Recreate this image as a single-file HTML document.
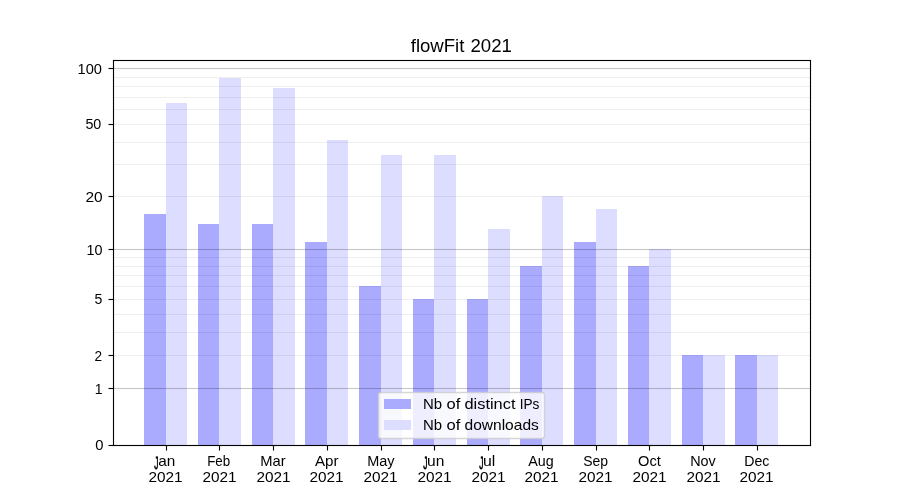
<!DOCTYPE html>
<html><head><meta charset="utf-8"><title>flowFit 2021</title>
<style>
html,body{margin:0;padding:0;background:#fff;width:900px;height:500px;overflow:hidden}
svg{display:block;will-change:transform}
text{font-family:"Liberation Sans",sans-serif;fill:#000}
</style></head><body>
<svg width="900" height="500" viewBox="0 0 900 500" shape-rendering="crispEdges">
<rect width="900" height="500" fill="#fff"/>
<rect x="144" y="214" width="22" height="231" fill="#aaaaff"/>
<rect x="166" y="103" width="21" height="342" fill="#ddddff"/>
<rect x="198" y="224" width="21" height="221" fill="#aaaaff"/>
<rect x="219" y="78" width="22" height="367" fill="#ddddff"/>
<rect x="252" y="224" width="21" height="221" fill="#aaaaff"/>
<rect x="273" y="88" width="22" height="357" fill="#ddddff"/>
<rect x="305" y="242" width="22" height="203" fill="#aaaaff"/>
<rect x="327" y="140" width="21" height="305" fill="#ddddff"/>
<rect x="359" y="286" width="22" height="159" fill="#aaaaff"/>
<rect x="381" y="155" width="21" height="290" fill="#ddddff"/>
<rect x="413" y="299" width="21" height="146" fill="#aaaaff"/>
<rect x="434" y="155" width="22" height="290" fill="#ddddff"/>
<rect x="467" y="299" width="21" height="146" fill="#aaaaff"/>
<rect x="488" y="229" width="22" height="216" fill="#ddddff"/>
<rect x="520" y="266" width="22" height="179" fill="#aaaaff"/>
<rect x="542" y="196" width="21" height="249" fill="#ddddff"/>
<rect x="574" y="242" width="22" height="203" fill="#aaaaff"/>
<rect x="596" y="209" width="21" height="236" fill="#ddddff"/>
<rect x="628" y="266" width="21" height="179" fill="#aaaaff"/>
<rect x="649" y="249" width="22" height="196" fill="#ddddff"/>
<rect x="682" y="355" width="21" height="90" fill="#aaaaff"/>
<rect x="703" y="355" width="22" height="90" fill="#ddddff"/>
<rect x="735" y="355" width="22" height="90" fill="#aaaaff"/>
<rect x="757" y="355" width="21" height="90" fill="#ddddff"/>
<rect x="113" y="355" width="698" height="1" fill="#000" fill-opacity="0.0627"/>
<rect x="113" y="332" width="698" height="1" fill="#000" fill-opacity="0.0627"/>
<rect x="113" y="314" width="698" height="1" fill="#000" fill-opacity="0.0627"/>
<rect x="113" y="299" width="698" height="1" fill="#000" fill-opacity="0.0627"/>
<rect x="113" y="286" width="698" height="1" fill="#000" fill-opacity="0.0627"/>
<rect x="113" y="275" width="698" height="1" fill="#000" fill-opacity="0.0627"/>
<rect x="113" y="266" width="698" height="1" fill="#000" fill-opacity="0.0627"/>
<rect x="113" y="257" width="698" height="1" fill="#000" fill-opacity="0.0627"/>
<rect x="113" y="196" width="698" height="1" fill="#000" fill-opacity="0.0627"/>
<rect x="113" y="164" width="698" height="1" fill="#000" fill-opacity="0.0627"/>
<rect x="113" y="142" width="698" height="1" fill="#000" fill-opacity="0.0627"/>
<rect x="113" y="124" width="698" height="1" fill="#000" fill-opacity="0.0627"/>
<rect x="113" y="109" width="698" height="1" fill="#000" fill-opacity="0.0627"/>
<rect x="113" y="97" width="698" height="1" fill="#000" fill-opacity="0.0627"/>
<rect x="113" y="86" width="698" height="1" fill="#000" fill-opacity="0.0627"/>
<rect x="113" y="77" width="698" height="1" fill="#000" fill-opacity="0.0627"/>
<rect x="113" y="388" width="698" height="1" fill="#000" fill-opacity="0.2157"/>
<rect x="113" y="387" width="698" height="1" fill="#000" fill-opacity="0.012"/>
<rect x="113" y="389" width="698" height="1" fill="#000" fill-opacity="0.012"/>
<rect x="113" y="249" width="698" height="1" fill="#000" fill-opacity="0.2157"/>
<rect x="113" y="248" width="698" height="1" fill="#000" fill-opacity="0.012"/>
<rect x="113" y="250" width="698" height="1" fill="#000" fill-opacity="0.012"/>
<rect x="113" y="68" width="698" height="1" fill="#000" fill-opacity="0.2157"/>
<rect x="113" y="67" width="698" height="1" fill="#000" fill-opacity="0.012"/>
<rect x="113" y="69" width="698" height="1" fill="#000" fill-opacity="0.012"/>
<g fill="#000">
<rect x="113" y="60" width="698" height="1"/>
<rect x="113" y="59" width="698" height="1" fill-opacity="0.0555"/>
<rect x="113" y="61" width="698" height="1" fill-opacity="0.0555"/>
<rect x="112" y="60" width="1" height="1" fill-opacity="0.0555"/>
<rect x="811" y="60" width="1" height="1" fill-opacity="0.0555"/>
<rect x="113" y="445" width="698" height="1"/>
<rect x="113" y="444" width="698" height="1" fill-opacity="0.0555"/>
<rect x="113" y="446" width="698" height="1" fill-opacity="0.0555"/>
<rect x="112" y="445" width="1" height="1" fill-opacity="0.0555"/>
<rect x="811" y="445" width="1" height="1" fill-opacity="0.0555"/>
<rect x="113" y="60" width="1" height="386"/>
<rect x="112" y="60" width="1" height="386" fill-opacity="0.0555"/>
<rect x="114" y="60" width="1" height="386" fill-opacity="0.0555"/>
<rect x="113" y="59" width="1" height="1" fill-opacity="0.0555"/>
<rect x="113" y="446" width="1" height="1" fill-opacity="0.0555"/>
<rect x="810" y="60" width="1" height="386"/>
<rect x="809" y="60" width="1" height="386" fill-opacity="0.0555"/>
<rect x="811" y="60" width="1" height="386" fill-opacity="0.0555"/>
<rect x="810" y="59" width="1" height="1" fill-opacity="0.0555"/>
<rect x="810" y="446" width="1" height="1" fill-opacity="0.0555"/>
<rect x="109" y="445" width="4" height="1"/>
<rect x="108" y="445" width="1" height="1" fill-opacity="0.5"/>
<rect x="109" y="444" width="4" height="1" fill-opacity="0.0555"/>
<rect x="108" y="444" width="1" height="1" fill-opacity="0.02775"/>
<rect x="109" y="446" width="4" height="1" fill-opacity="0.0555"/>
<rect x="108" y="446" width="1" height="1" fill-opacity="0.02775"/>
<rect x="109" y="388" width="4" height="1"/>
<rect x="108" y="388" width="1" height="1" fill-opacity="0.5"/>
<rect x="109" y="387" width="4" height="1" fill-opacity="0.0555"/>
<rect x="108" y="387" width="1" height="1" fill-opacity="0.02775"/>
<rect x="109" y="389" width="4" height="1" fill-opacity="0.0555"/>
<rect x="108" y="389" width="1" height="1" fill-opacity="0.02775"/>
<rect x="109" y="355" width="4" height="1"/>
<rect x="108" y="355" width="1" height="1" fill-opacity="0.5"/>
<rect x="109" y="354" width="4" height="1" fill-opacity="0.0555"/>
<rect x="108" y="354" width="1" height="1" fill-opacity="0.02775"/>
<rect x="109" y="356" width="4" height="1" fill-opacity="0.0555"/>
<rect x="108" y="356" width="1" height="1" fill-opacity="0.02775"/>
<rect x="109" y="299" width="4" height="1"/>
<rect x="108" y="299" width="1" height="1" fill-opacity="0.5"/>
<rect x="109" y="298" width="4" height="1" fill-opacity="0.0555"/>
<rect x="108" y="298" width="1" height="1" fill-opacity="0.02775"/>
<rect x="109" y="300" width="4" height="1" fill-opacity="0.0555"/>
<rect x="108" y="300" width="1" height="1" fill-opacity="0.02775"/>
<rect x="109" y="249" width="4" height="1"/>
<rect x="108" y="249" width="1" height="1" fill-opacity="0.5"/>
<rect x="109" y="248" width="4" height="1" fill-opacity="0.0555"/>
<rect x="108" y="248" width="1" height="1" fill-opacity="0.02775"/>
<rect x="109" y="250" width="4" height="1" fill-opacity="0.0555"/>
<rect x="108" y="250" width="1" height="1" fill-opacity="0.02775"/>
<rect x="109" y="196" width="4" height="1"/>
<rect x="108" y="196" width="1" height="1" fill-opacity="0.5"/>
<rect x="109" y="195" width="4" height="1" fill-opacity="0.0555"/>
<rect x="108" y="195" width="1" height="1" fill-opacity="0.02775"/>
<rect x="109" y="197" width="4" height="1" fill-opacity="0.0555"/>
<rect x="108" y="197" width="1" height="1" fill-opacity="0.02775"/>
<rect x="109" y="124" width="4" height="1"/>
<rect x="108" y="124" width="1" height="1" fill-opacity="0.5"/>
<rect x="109" y="123" width="4" height="1" fill-opacity="0.0555"/>
<rect x="108" y="123" width="1" height="1" fill-opacity="0.02775"/>
<rect x="109" y="125" width="4" height="1" fill-opacity="0.0555"/>
<rect x="108" y="125" width="1" height="1" fill-opacity="0.02775"/>
<rect x="109" y="68" width="4" height="1"/>
<rect x="108" y="68" width="1" height="1" fill-opacity="0.5"/>
<rect x="109" y="67" width="4" height="1" fill-opacity="0.0555"/>
<rect x="108" y="67" width="1" height="1" fill-opacity="0.02775"/>
<rect x="109" y="69" width="4" height="1" fill-opacity="0.0555"/>
<rect x="108" y="69" width="1" height="1" fill-opacity="0.02775"/>
<rect x="166" y="446" width="1" height="4"/>
<rect x="166" y="450" width="1" height="1" fill-opacity="0.5"/>
<rect x="165" y="446" width="1" height="4" fill-opacity="0.0555"/>
<rect x="165" y="450" width="1" height="1" fill-opacity="0.02775"/>
<rect x="167" y="446" width="1" height="4" fill-opacity="0.0555"/>
<rect x="167" y="450" width="1" height="1" fill-opacity="0.02775"/>
<rect x="219" y="446" width="1" height="4"/>
<rect x="219" y="450" width="1" height="1" fill-opacity="0.5"/>
<rect x="218" y="446" width="1" height="4" fill-opacity="0.0555"/>
<rect x="218" y="450" width="1" height="1" fill-opacity="0.02775"/>
<rect x="220" y="446" width="1" height="4" fill-opacity="0.0555"/>
<rect x="220" y="450" width="1" height="1" fill-opacity="0.02775"/>
<rect x="273" y="446" width="1" height="4"/>
<rect x="273" y="450" width="1" height="1" fill-opacity="0.5"/>
<rect x="272" y="446" width="1" height="4" fill-opacity="0.0555"/>
<rect x="272" y="450" width="1" height="1" fill-opacity="0.02775"/>
<rect x="274" y="446" width="1" height="4" fill-opacity="0.0555"/>
<rect x="274" y="450" width="1" height="1" fill-opacity="0.02775"/>
<rect x="327" y="446" width="1" height="4"/>
<rect x="327" y="450" width="1" height="1" fill-opacity="0.5"/>
<rect x="326" y="446" width="1" height="4" fill-opacity="0.0555"/>
<rect x="326" y="450" width="1" height="1" fill-opacity="0.02775"/>
<rect x="328" y="446" width="1" height="4" fill-opacity="0.0555"/>
<rect x="328" y="450" width="1" height="1" fill-opacity="0.02775"/>
<rect x="381" y="446" width="1" height="4"/>
<rect x="381" y="450" width="1" height="1" fill-opacity="0.5"/>
<rect x="380" y="446" width="1" height="4" fill-opacity="0.0555"/>
<rect x="380" y="450" width="1" height="1" fill-opacity="0.02775"/>
<rect x="382" y="446" width="1" height="4" fill-opacity="0.0555"/>
<rect x="382" y="450" width="1" height="1" fill-opacity="0.02775"/>
<rect x="434" y="446" width="1" height="4"/>
<rect x="434" y="450" width="1" height="1" fill-opacity="0.5"/>
<rect x="433" y="446" width="1" height="4" fill-opacity="0.0555"/>
<rect x="433" y="450" width="1" height="1" fill-opacity="0.02775"/>
<rect x="435" y="446" width="1" height="4" fill-opacity="0.0555"/>
<rect x="435" y="450" width="1" height="1" fill-opacity="0.02775"/>
<rect x="488" y="446" width="1" height="4"/>
<rect x="488" y="450" width="1" height="1" fill-opacity="0.5"/>
<rect x="487" y="446" width="1" height="4" fill-opacity="0.0555"/>
<rect x="487" y="450" width="1" height="1" fill-opacity="0.02775"/>
<rect x="489" y="446" width="1" height="4" fill-opacity="0.0555"/>
<rect x="489" y="450" width="1" height="1" fill-opacity="0.02775"/>
<rect x="542" y="446" width="1" height="4"/>
<rect x="542" y="450" width="1" height="1" fill-opacity="0.5"/>
<rect x="541" y="446" width="1" height="4" fill-opacity="0.0555"/>
<rect x="541" y="450" width="1" height="1" fill-opacity="0.02775"/>
<rect x="543" y="446" width="1" height="4" fill-opacity="0.0555"/>
<rect x="543" y="450" width="1" height="1" fill-opacity="0.02775"/>
<rect x="596" y="446" width="1" height="4"/>
<rect x="596" y="450" width="1" height="1" fill-opacity="0.5"/>
<rect x="595" y="446" width="1" height="4" fill-opacity="0.0555"/>
<rect x="595" y="450" width="1" height="1" fill-opacity="0.02775"/>
<rect x="597" y="446" width="1" height="4" fill-opacity="0.0555"/>
<rect x="597" y="450" width="1" height="1" fill-opacity="0.02775"/>
<rect x="649" y="446" width="1" height="4"/>
<rect x="649" y="450" width="1" height="1" fill-opacity="0.5"/>
<rect x="648" y="446" width="1" height="4" fill-opacity="0.0555"/>
<rect x="648" y="450" width="1" height="1" fill-opacity="0.02775"/>
<rect x="650" y="446" width="1" height="4" fill-opacity="0.0555"/>
<rect x="650" y="450" width="1" height="1" fill-opacity="0.02775"/>
<rect x="703" y="446" width="1" height="4"/>
<rect x="703" y="450" width="1" height="1" fill-opacity="0.5"/>
<rect x="702" y="446" width="1" height="4" fill-opacity="0.0555"/>
<rect x="702" y="450" width="1" height="1" fill-opacity="0.02775"/>
<rect x="704" y="446" width="1" height="4" fill-opacity="0.0555"/>
<rect x="704" y="450" width="1" height="1" fill-opacity="0.02775"/>
<rect x="757" y="446" width="1" height="4"/>
<rect x="757" y="450" width="1" height="1" fill-opacity="0.5"/>
<rect x="756" y="446" width="1" height="4" fill-opacity="0.0555"/>
<rect x="756" y="450" width="1" height="1" fill-opacity="0.02775"/>
<rect x="758" y="446" width="1" height="4" fill-opacity="0.0555"/>
<rect x="758" y="450" width="1" height="1" fill-opacity="0.02775"/>
</g>
<rect x="378.5" y="392.5" width="166" height="46" rx="2.78" ry="2.78" fill="#fff" fill-opacity="0.8" stroke="#ccc" stroke-opacity="0.8" stroke-width="1.389" shape-rendering="geometricPrecision"/>
<rect x="384" y="399" width="27" height="10" fill="#aaaaff"/>
<rect x="384" y="420" width="27" height="10" fill="#ddddff"/>
<text transform="translate(410.746 52.000) scale(1.0214 1.0000)" font-size="18.2">flowFit</text>
<text transform="translate(470.503 52.000) scale(1.0239 1.0000)" font-size="18.2">2021</text>
<text transform="translate(95.281 450.000) scale(1.0411 1.0000)" font-size="14.2">0</text>
<text transform="translate(94.759 394.000) scale(0.9895 1.0000)" font-size="14.2">1</text>
<text transform="translate(94.594 361.000) scale(0.9595 1.0000)" font-size="14.2">2</text>
<text transform="translate(94.458 304.000) scale(0.9930 1.0000)" font-size="14.2">5</text>
<text transform="translate(86.516 255.000) scale(1.0126 1.0000)" font-size="14.2">10</text>
<text transform="translate(85.463 202.000) scale(1.0935 1.0000)" font-size="14.2">20</text>
<text transform="translate(85.417 129.000) scale(1.0074 1.0000)" font-size="14.2">50</text>
<text transform="translate(77.581 74.000) scale(1.0294 1.0000)" font-size="14.2">100</text>
<text transform="translate(154.148 468.923) scale(0.5971 1.2460)" font-size="14.2" stroke="#000" stroke-width="0.5" stroke-linejoin="round" text-rendering="geometricPrecision">J</text>
<text transform="translate(158.164 466.000) scale(1.0805 1.0000)" font-size="14.2">an</text>
<text transform="translate(148.470 482.000) scale(1.0820 1.0000)" font-size="14.2">2021</text>
<text transform="translate(207.221 466.000) scale(0.9408 1.0000)" font-size="14.2">Feb</text>
<text transform="translate(202.470 482.000) scale(1.0820 1.0000)" font-size="14.2">2021</text>
<text transform="translate(260.156 466.000) scale(1.0392 1.0000)" font-size="14.2">Mar</text>
<text transform="translate(256.470 482.000) scale(1.0820 1.0000)" font-size="14.2">2021</text>
<text transform="translate(314.883 466.000) scale(1.0668 1.0000)" font-size="14.2">Apr</text>
<text transform="translate(309.470 482.000) scale(1.0820 1.0000)" font-size="14.2">2021</text>
<text transform="translate(367.143 466.000) scale(1.0184 1.0000)" font-size="14.2">May</text>
<text transform="translate(363.470 482.000) scale(1.0820 1.0000)" font-size="14.2">2021</text>
<text transform="translate(423.148 468.923) scale(0.5971 1.2460)" font-size="14.2" stroke="#000" stroke-width="0.5" stroke-linejoin="round" text-rendering="geometricPrecision">J</text>
<text transform="translate(426.972 466.000) scale(1.0965 1.0000)" font-size="14.2">un</text>
<text transform="translate(417.470 482.000) scale(1.0820 1.0000)" font-size="14.2">2021</text>
<text transform="translate(479.148 468.923) scale(0.5971 1.2460)" font-size="14.2" stroke="#000" stroke-width="0.5" stroke-linejoin="round" text-rendering="geometricPrecision">J</text>
<text transform="translate(483.053 466.000) scale(1.1123 1.0000)" font-size="14.2">ul</text>
<text transform="translate(471.470 482.000) scale(1.0820 1.0000)" font-size="14.2">2021</text>
<text transform="translate(528.148 466.000) scale(1.0073 1.0000)" font-size="14.2">Aug</text>
<text transform="translate(524.470 482.000) scale(1.0820 1.0000)" font-size="14.2">2021</text>
<text transform="translate(583.136 466.000) scale(0.9848 1.0000)" font-size="14.2">Sep</text>
<text transform="translate(578.470 482.000) scale(1.0820 1.0000)" font-size="14.2">2021</text>
<text transform="translate(638.079 466.000) scale(1.0317 1.0000)" font-size="14.2">Oct</text>
<text transform="translate(632.470 482.000) scale(1.0820 1.0000)" font-size="14.2">2021</text>
<text transform="translate(690.149 466.000) scale(1.0166 1.0000)" font-size="14.2">Nov</text>
<text transform="translate(686.470 482.000) scale(1.0820 1.0000)" font-size="14.2">2021</text>
<text transform="translate(744.219 466.000) scale(0.9968 1.0000)" font-size="14.2">Dec</text>
<text transform="translate(739.470 482.000) scale(1.0820 1.0000)" font-size="14.2">2021</text>
<text transform="translate(422.883 409.000) scale(1.0535 1.0000)" font-size="14.2">Nb</text>
<text transform="translate(446.470 409.000) scale(1.1623 1.0000)" font-size="14.2">of</text>
<text transform="translate(464.474 409.000) scale(1.1538 1.0000)" font-size="14.2">distinct</text>
<text transform="translate(519.738 409.000) scale(0.9600 1.0000)" font-size="14.2">IPs</text>
<text transform="translate(422.880 430.000) scale(1.0528 1.0000)" font-size="14.2">Nb</text>
<text transform="translate(446.469 430.000) scale(1.1685 1.0000)" font-size="14.2">of</text>
<text transform="translate(464.502 430.000) scale(1.0956 1.0000)" font-size="14.2">downloads</text>
</svg>
</body></html>
